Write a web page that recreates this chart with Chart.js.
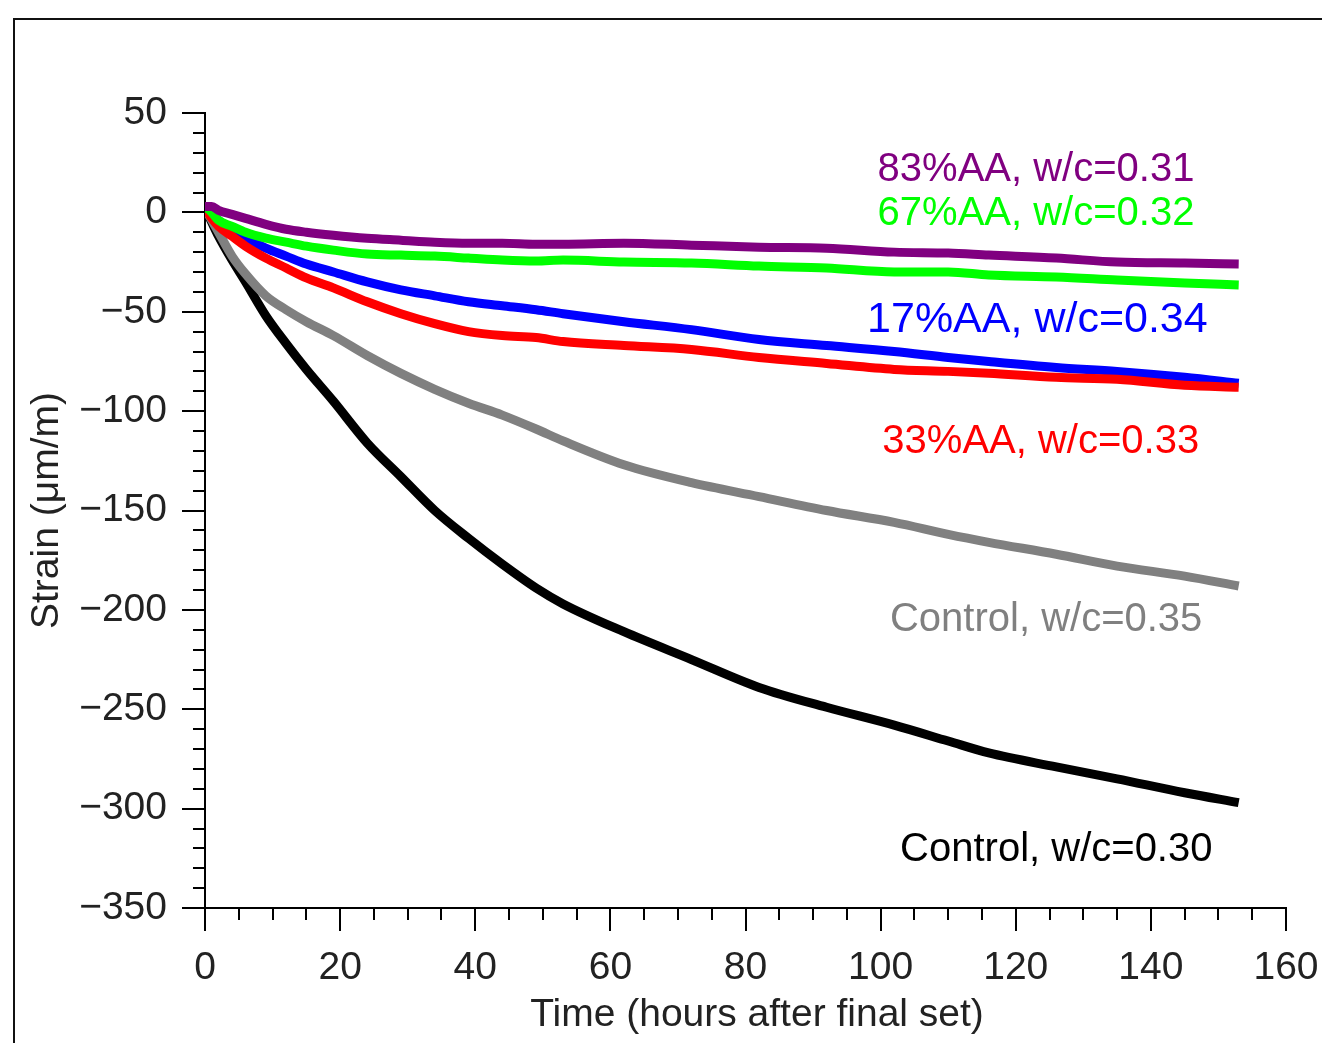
<!DOCTYPE html>
<html>
<head>
<meta charset="utf-8">
<script src="https://cdn.jsdelivr.net/npm/chart.js@4/dist/chart.umd.min.js"></script>
<style>
  html, body { margin: 0; padding: 0; background: #fff; }
  #wrap { width: 1322px; height: 1043px; }
</style>
</head>
<body>
<div id="wrap"><canvas id="c" width="1322" height="1043"></canvas></div>
<script>
// hours after final set
var times = [0, 1, 2, 4, 6, 9, 12, 15, 19, 24, 29, 34, 39, 44, 49, 53, 62, 72, 82, 92, 102, 110, 116, 126, 135, 145, 153];

// strain, um/m
var aa83 = [3, 3, 1, -1, -3, -6, -8.5, -10, -11.5, -13, -14, -15, -15.5, -15.5, -16, -16, -15.5, -16.5, -17.5, -18, -20, -20.5, -21.5, -23, -25, -25.5, -26];
var aa67 = [3, 0, -4, -7, -10, -13, -15, -17, -19, -21, -21.5, -22, -23, -24, -24.5, -24, -25, -25.5, -27, -28, -30, -30, -31.5, -32.5, -34, -35.5, -36.5];
var aa17 = [2, -1, -4, -9, -13, -18, -22, -26, -30, -35, -39, -42, -45, -47, -49, -51, -55, -59, -64, -67, -70, -73, -75, -78, -80, -83, -86];
var aa33 = [2, -3, -7, -12, -17, -23, -28, -33, -38, -45, -51, -56, -60, -62, -63, -65, -67, -69, -73, -76, -79, -80, -81, -83, -84, -87, -88];
var ctl35 = [2, -4, -10, -22, -31, -42, -49, -55, -62, -72, -81, -89, -96, -102, -109, -115, -127, -136, -143, -150, -156, -162, -166, -172, -178, -183, -188];
var ctl30 = [2, -5, -12, -24, -35, -52, -66, -79, -95, -116, -133, -150, -164, -177, -189, -197, -211, -225, -239, -249, -258, -266, -272, -279, -285, -292, -297];

var names = ["83%AA, w/c=0.31", "67%AA, w/c=0.32", "33%AA, w/c=0.33", "17%AA, w/c=0.34", "Control, w/c=0.35", "Control, w/c=0.30"];
var colors = ["#800080", "#00ff00", "#ff0000", "#0000ff", "#808080", "#000000"];
var series = [aa83, aa67, aa33, aa17, ctl35, ctl30];

// where each series name sits, in data units (centre x, centre y), and its font size
var labelX = [123, 123, 123.7, 123.2, 124.5, 126];
var labelY = [21.3, -0.8, -115.5, -54, -205, -320.8];
var labelSize = [40, 40, 40, 43, 40, 40];

var xTicks = [0, 20, 40, 60, 80, 100, 120, 140, 160];
var yTicks = [50, 0, -50, -100, -150, -200, -250, -300, -350];

var FONT = "'Liberation Sans', Arial, Helvetica, sans-serif";

function pts(vals) {
  return vals.map(function(v, i) { return { x: times[i], y: v }; });
}

var datasets = series.map(function(s, i) {
  return {
    label: names[i],
    data: pts(s),
    borderColor: colors[i],
    backgroundColor: colors[i],
    borderWidth: 9,
    pointRadius: 0,
    fill: false,
    cubicInterpolationMode: "monotone"
  };
});

var decor = {
  id: "decor",
  beforeDraw: function(chart) {
    var ctx = chart.ctx;
    ctx.save();
    ctx.strokeStyle = "#111";
    ctx.lineWidth = 2;
    ctx.beginPath();
    ctx.moveTo(14, 1043);
    ctx.lineTo(14, 19);
    ctx.lineTo(1322, 19);
    ctx.stroke();
    ctx.restore();
  },
  afterDraw: function(chart) {
    var ctx = chart.ctx, xs = chart.scales.x, ys = chart.scales.y;
    var area = chart.chartArea;
    ctx.save();
    ctx.strokeStyle = "#000";
    ctx.lineWidth = 2;
    ctx.beginPath();
    for (var t = 0; t <= 160; t += 5) {
      if (t % 20 === 0) continue;
      var px = Math.round(xs.getPixelForValue(t));
      ctx.moveTo(px, area.bottom);
      ctx.lineTo(px, area.bottom + 12);
    }
    for (var v = -350; v <= 50; v += 10) {
      if (v % 50 === 0) continue;
      var py = Math.round(ys.getPixelForValue(v));
      ctx.moveTo(area.left, py);
      ctx.lineTo(area.left - 12, py);
    }
    ctx.stroke();

    // x axis title, sits a little right of centre in the original
    ctx.fillStyle = "#222";
    ctx.font = "39px " + FONT;
    ctx.textAlign = "center";
    ctx.textBaseline = "middle";
    ctx.fillText("Time (hours after final set)", 757, 1015);

    for (var i = 0; i < names.length; i++) {
      ctx.font = labelSize[i] + "px " + FONT;
      ctx.fillStyle = colors[i];
      ctx.fillText(names[i], xs.getPixelForValue(labelX[i]), ys.getPixelForValue(labelY[i]));
    }
    ctx.restore();
  }
};

new Chart(document.getElementById("c"), {
  type: "line",
  data: { datasets: datasets },
  options: {
    responsive: false,
    animation: false,
    layout: { padding: { left: 20, top: 113, right: 36, bottom: 0 } },
    plugins: { legend: { display: false }, tooltip: { enabled: false } },
    scales: {
      x: {
        type: "linear",
        min: 0,
        max: 160,
        afterBuildTicks: function(s) { s.ticks = xTicks.map(function(v) { return { value: v }; }); },
        afterFit: function(s) { s.height = 135; s.paddingRight = 0; s.paddingLeft = 0; },
        ticks: { color: "#222", font: { family: FONT, size: 39 }, padding: 14, maxRotation: 0 },
        grid: { drawOnChartArea: false, drawTicks: true, tickLength: 23, color: "#000", lineWidth: 2 },
        border: { display: true, color: "#000", width: 2 }
      },
      y: {
        type: "linear",
        min: -350,
        max: 50,
        afterBuildTicks: function(s) { s.ticks = yTicks.map(function(v) { return { value: v }; }); },
        afterFit: function(s) { s.width = 185; s.paddingTop = 0; s.paddingBottom = 0; },
        ticks: {
          color: "#222",
          font: { family: FONT, size: 39 },
          padding: 15,
          callback: function(v) { return String(v).replace("-", "\u2212"); }
        },
        grid: { drawOnChartArea: false, drawTicks: true, tickLength: 23, color: "#000", lineWidth: 2 },
        border: { display: true, color: "#000", width: 2 },
        title: { display: true, text: "Strain (\u03bcm/m)", color: "#222", font: { family: FONT, size: 39 }, padding: { top: 4, bottom: 0 } }
      }
    }
  },
  plugins: [decor]
});
</script>
</body>
</html>
